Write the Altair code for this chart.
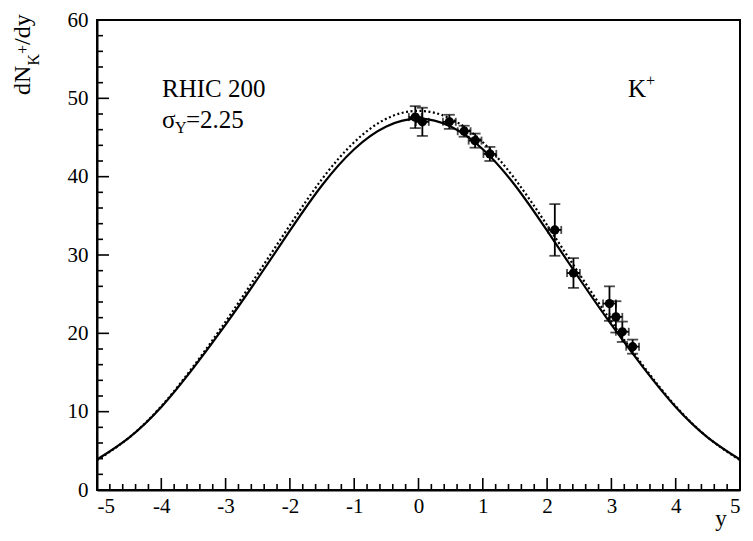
import altair as alt
import pandas as pd

# ---- data ----
curve_x = [-5.0, -4.5, -4.0, -3.5, -3.0, -2.5, -2.0, -1.5, -1.0, -0.5, 0.0,
           0.5, 1.0, 1.5, 2.0, 2.5, 3.0, 3.5, 4.0, 4.5, 5.0]
solid_vals = [3.9, 6.7, 10.6, 15.6, 21.1, 27.0, 33.1, 38.9, 43.5, 46.4, 47.4,
              46.4, 43.5, 38.9, 33.1, 27.0, 21.1, 15.6, 10.6, 6.7, 3.9]
dotted_vals = [3.8, 6.7, 10.7, 15.8, 21.5, 27.6, 33.8, 39.7, 44.4, 47.4, 48.4,
               47.4, 44.4, 39.7, 33.8, 27.6, 21.5, 15.8, 10.7, 6.7, 3.8]

pt_y = [-0.05, 0.06, 0.48, 0.71, 0.88, 1.11, 2.12, 2.41, 2.97, 3.07, 3.17, 3.33]
pt_v = [47.6, 47.0, 47.0, 45.8, 44.6, 42.9, 33.2, 27.7, 23.8, 22.1, 20.2, 18.3]
pt_err = [1.4, 1.8, 0.9, 0.7, 0.9, 0.9, 3.3, 1.9, 2.2, 2.0, 1.3, 0.9]
pt_xerr = [0.1, 0.1, 0.1, 0.1, 0.1, 0.1, 0.1, 0.1, 0.1, 0.1, 0.1, 0.1]

x_major = [-5, -4, -3, -2, -1, 0, 1, 2, 3, 4, 5]
y_major = [0, 10, 20, 30, 40, 50, 60]
x_minor = [round(-5 + 0.2 * i, 1) for i in range(51) if i % 5 != 0]
y_minor = [v for v in range(0, 61, 2) if v % 10 != 0]

W, H = 643, 470
FONT = "Liberation Serif"

curves = pd.DataFrame({
    "x": curve_x * 2,
    "v": solid_vals + dotted_vals,
    "kind": ["solid"] * len(curve_x) + ["dotted"] * len(curve_x),
})
pts = pd.DataFrame({"x": pt_y, "v": pt_v, "e": pt_err, "xe": pt_xerr})
pts["lo"] = pts["v"] - pts["e"]
pts["hi"] = pts["v"] + pts["e"]
pts["xlo"] = pts["x"] - pts["xe"]
pts["xhi"] = pts["x"] + pts["xe"]

xs = alt.Scale(domain=[-5, 5], nice=False, zero=False)
ys = alt.Scale(domain=[0, 60], nice=False, zero=False)

X = alt.X("x:Q", scale=xs, axis=alt.Axis(
    values=x_major, ticks=False, tickSize=0, grid=False, title=None,
    labelFont=FONT, labelFontSize=21, labelColor="black", labelPadding=5,
    labelExpr="'' + datum.value", domainColor="black", domainWidth=2))
Y = alt.Y("v:Q", scale=ys, axis=alt.Axis(
    values=y_major, ticks=False, tickSize=0, grid=False, title=None,
    labelFont=FONT, labelFontSize=21, labelColor="black", labelPadding=9,
    domainColor="black", domainWidth=2))

solid = alt.Chart(curves).transform_filter("datum.kind == 'solid'").mark_line(
    color="black", strokeWidth=2.2, interpolate="natural").encode(x=X, y=Y)
dotted = alt.Chart(curves).transform_filter("datum.kind == 'dotted'").mark_line(
    color="black", strokeWidth=2.2, strokeDash=[2, 2.5], interpolate="natural").encode(
    x=alt.X("x:Q", scale=xs), y=alt.Y("v:Q", scale=ys))

vbar = alt.Chart(pts).mark_rule(color="black", strokeWidth=1.8).encode(
    x=alt.X("x:Q", scale=xs), y=alt.Y("lo:Q", scale=ys), y2="hi:Q")
hbar = alt.Chart(pts).mark_rule(color="black", strokeWidth=1.8).encode(
    x=alt.X("xlo:Q", scale=xs), x2="xhi:Q", y=alt.Y("v:Q", scale=ys))
cap_lo = alt.Chart(pts).mark_tick(color="black", orient="horizontal", size=11, thickness=1.8).encode(
    x=alt.X("x:Q", scale=xs), y=alt.Y("lo:Q", scale=ys))
cap_hi = alt.Chart(pts).mark_tick(color="black", orient="horizontal", size=11, thickness=1.8).encode(
    x=alt.X("x:Q", scale=xs), y=alt.Y("hi:Q", scale=ys))
cap_l = alt.Chart(pts).mark_tick(color="black", orient="vertical", size=8, thickness=1.8).encode(
    x=alt.X("xlo:Q", scale=xs), y=alt.Y("v:Q", scale=ys))
cap_r = alt.Chart(pts).mark_tick(color="black", orient="vertical", size=8, thickness=1.8).encode(
    x=alt.X("xhi:Q", scale=xs), y=alt.Y("v:Q", scale=ys))
dots = alt.Chart(pts).mark_circle(color="black", opacity=1, size=85).encode(
    x=alt.X("x:Q", scale=xs), y=alt.Y("v:Q", scale=ys))

# inward ticks
def xticks(vals, length):
    return alt.Chart(pd.DataFrame({"t": vals})).mark_rule(color="black", strokeWidth=1.6).encode(
        x=alt.X("t:Q", scale=xs), y=alt.value(H), y2=alt.value(H - length))

def yticks(vals, length):
    return alt.Chart(pd.DataFrame({"t": vals})).mark_rule(color="black", strokeWidth=1.6).encode(
        y=alt.Y("t:Q", scale=ys), x=alt.value(0), x2=alt.value(length))

def label(text, x, y, size, angle=0, align="left"):
    return alt.Chart(pd.DataFrame({"t": [text]})).mark_text(
        font=FONT, fontSize=size, color="black", align=align, baseline="alphabetic",
        angle=angle).encode(text="t:N", x=alt.value(x), y=alt.value(y))

texts = [
    label("RHIC 200", 65, 77, 25),
    label("σ", 65, 108, 25),
    label("Y", 78, 113, 16),
    label("=2.25", 89, 108, 25),
    label("K", 531, 77, 25),
    label("+", 549, 66, 16),
    label("y", W - 19, H + 36, 23, align="center"),
    # rotated y-axis title dN_K^+/dy
    label("dN", -67, 75, 24, angle=270),
    label("K", -58, 45.5, 16, angle=270),
    label("+", -69, 34, 16, angle=270),
    label("/dy", -67, 25, 24, angle=270),
]

chart = alt.layer(
    solid, dotted, vbar, hbar, cap_lo, cap_hi, cap_l, cap_r, dots,
    xticks(x_major, 12), xticks(x_minor, 6), yticks(y_major, 12), yticks(y_minor, 6),
    *texts
).properties(
    width=W, height=H,
    autosize=alt.AutoSizeParams(type="none"),
    padding={"left": 89, "top": 12, "right": 5, "bottom": 41},
    background="white",
).configure_view(stroke="black", strokeWidth=2)

chart.save("out.html", embed_options={"renderer": "svg", "actions": False})
